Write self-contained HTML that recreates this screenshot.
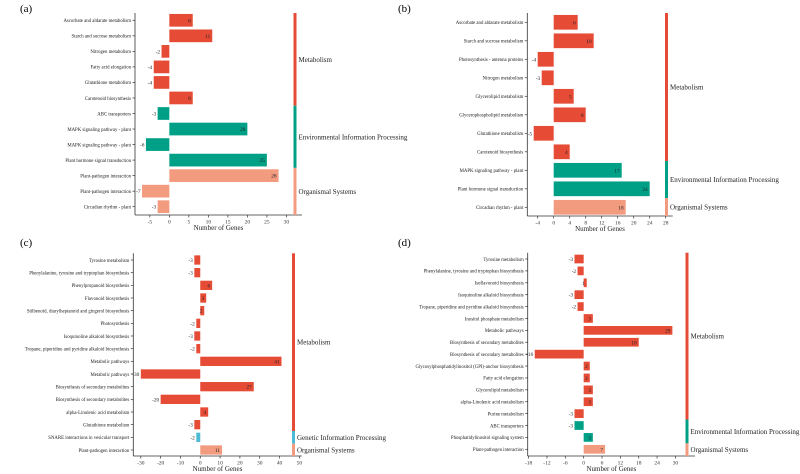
<!DOCTYPE html>
<html><head><meta charset="utf-8"><style>
html,body{margin:0;padding:0;background:#fff;width:800px;height:474px;overflow:hidden}
svg{display:block;font-family:"Liberation Serif",serif}
</style></head><body>
<svg id="chart" width="800" height="474" viewBox="0 0 800 474" xmlns="http://www.w3.org/2000/svg"></svg>
<script>
const catsA=["Ascorbate and aldarate metabolism","Starch and sucrose metabolism","Nitrogen metabolism","Fatty acid elongation","Glutathione metabolism","Carotenoid biosynthesis","ABC transporters","MAPK signaling pathway - plant","MAPK signaling pathway - plant","Plant hormone signal transduction","Plant-pathogen interaction","Plant-pathogen interaction","Circadian rhythm - plant"];
const valsA=[6,11,-2,-4,-4,6,-3,20,-6,25,28,-7,-3];
const grpA=[0,0,0,0,0,0,1,1,1,1,3,3,3];
const ticksA=[-5,0,5,10,15,20,25,30];
const catsB=["Ascorbate and aldarate metabolism","Starch and sucrose metabolism","Photosynthesis - antenna proteins","Nitrogen metabolism","Glycerolipid metabolism","Glycerophospholipid metabolism","Glutathione metabolism","Carotenoid biosynthesis","MAPK signaling pathway - plant","Plant hormone signal transduction","Circadian rhythm - plant"];
const valsB=[6,10,-4,-3,5,8,-5,4,17,24,18];
const grpB=[0,0,0,0,0,0,0,0,1,1,3];
const ticksB=[-4,0,4,8,12,16,20,24,28];
const catsC=["Tyrosine metabolism","Phenylalanine, tyrosine and tryptophan biosynthesis","Phenylpropanoid biosynthesis","Flavonoid biosynthesis","Stilbenoid, diarylheptanoid and gingerol biosynthesis","Photosynthesis","Isoquinoline alkaloid biosynthesis","Tropane, piperidine and pyridine alkaloid biosynthesis","Metabolic pathways","Metabolic pathways","Biosynthesis of secondary metabolites","Biosynthesis of secondary metabolites","alpha-Linolenic acid metabolism","Glutathione metabolism","SNARE interactions in vesicular transport","Plant-pathogen interaction"];
const valsC=[-3,-3,6,3,2,-2,-3,-2,41,-30,27,-20,4,-3,-2,11];
const grpC=[0,0,0,0,0,0,0,0,0,0,0,0,0,0,2,3];
const ticksC=[-30,-20,-10,0,10,20,30,40,50];
const catsD=["Tyrosine metabolism","Phenylalanine, tyrosine and tryptophan biosynthesis","Isoflavonoid biosynthesis","Isoquinoline alkaloid biosynthesis","Tropane, piperidine and pyridine alkaloid biosynthesis","Inositol phosphate metabolism","Metabolic pathways","Biosynthesis of secondary metabolites","Biosynthesis of secondary metabolites","Glycosylphosphatidylinositol (GPI)-anchor biosynthesis","Fatty acid elongation","Glycerolipid metabolism","alpha-Linolenic acid metabolism","Purine metabolism","ABC transporters","Phosphatidylinositol signaling system","Plant-pathogen interaction"];
const valsD=[-3,-2,1,-3,-2,3,29,18,-16,2,2,3,3,-3,-3,3,7];
const grpD=[0,0,0,0,0,0,0,0,0,0,0,0,0,0,1,1,3];
const ticksD=[-18,-12,-6,0,6,12,18,24,30];
const groupNames=["Metabolism","Environmental Information Processing","Genetic Information Processing","Organismal Systems"];
const colors=["#e64b35","#00a087","#4dbbd5","#f39b7f"];

const NS="http://www.w3.org/2000/svg";
const svg=document.getElementById('chart');
function mk(tag,attrs,parent,text){const e=document.createElementNS(NS,tag);for(const k in attrs)e.setAttribute(k,attrs[k]);if(text!==undefined)e.textContent=text;(parent||svg).appendChild(e);return e;}

function panel(p){
  const g=mk('g',{});
  
  
  const t=mk('text',{x:p.lx,y:p.ly,'font-size':11},g,'('+p.id+')');
  
  
  const xs=v=>p.x0+(v-p.xmin)*(p.x1-p.x0)/(p.xmax-p.xmin);
  const n=p.cats.length;
  const step=(p.yLast-p.yFirst)/(n-1);
  const yc=i=>p.yFirst+i*step;
  // axes
  const ya=mk('line',{x1:p.x0,x2:p.x0,y1:p.top,y2:p.bot,stroke:'#333','stroke-width':0.8},g);
  
  const xa=mk('line',{x1:p.x0,x2:p.x1,y1:p.bot,y2:p.bot,stroke:'#333','stroke-width':0.8},g);
  
  p.ticks.forEach(v=>{
    mk('line',{x1:xs(v),x2:xs(v),y1:p.bot,y2:p.bot+2.5,stroke:'#333','stroke-width':0.7},g);
    const tl=mk('text',{x:xs(v),y:p.bot+8.5,'font-size':5.5,'text-anchor':'middle',fill:'#333'},g,String(v));
    
  });
  const at=mk('text',{x:(p.x0+p.x1)/2,y:p.bot+15,'font-size':7,'text-anchor':'middle',fill:'#222'},g,'Number of Genes');
  
  for(let i=0;i<n;i++){
    const y=yc(i),v=p.vals[i];
    mk('line',{x1:p.x0-2.5,x2:p.x0,y1:y,y2:y,stroke:'#333','stroke-width':0.7},g);
    const cl=mk('text',{x:p.x0-4,y:y+1.8,'font-size':p.fs,'text-anchor':'end',fill:'#222'},g,p.cats[i]);
    
    const xa0=xs(0),xv=xs(v);
    const r=mk('rect',{x:Math.min(xa0,xv),y:y-p.bh/2,width:Math.abs(xv-xa0),height:p.bh,fill:colors[p.grp[i]]},g);
    
    const vl=v>=0?mk('text',{x:xv-2,y:y+2,'font-size':p.fs+0.5,'text-anchor':'end',fill:'#222'},g,String(v))
               :mk('text',{x:xv-1.5,y:y+2,'font-size':p.fs+0.5,'text-anchor':'end',fill:'#222'},g,String(v));
    
  }
  // group bars
  const groups=[];
  p.grp.forEach((gi,i)=>{if(!groups.length||groups[groups.length-1].g!==gi)groups.push({g:gi,s:i,e:i});else groups[groups.length-1].e=i;});
  groups.forEach((gr,k)=>{
    const y1=k===0?p.top:yc(gr.s)-step/2;
    const y2=k===groups.length-1?p.bot:yc(gr.e)+step/2;
    const gb=mk('rect',{x:p.gx,y:y1,width:3,height:y2-y1,fill:colors[gr.g]},g);
    
    const gl=mk('text',{x:p.gx+5,y:(y1+y2)/2+2.5,'font-size':7,fill:'#222'},g,groupNames[gr.g]);
    
  });
}
panel({id:'a',lx:20,ly:12,cats:catsA,vals:valsA,grp:grpA,ticks:ticksA,x0:135,x1:302,xmin:-8.8,xmax:34,top:13,bot:215,yFirst:20.3,yLast:206.7,bh:12.7,gx:293.5,fs:4.8});
panel({id:'b',lx:398,ly:12,cats:catsB,vals:valsB,grp:grpB,ticks:ticksB,x0:527.3,x1:672.7,xmin:-6.6,xmax:29.75,top:13,bot:216,yFirst:22.3,yLast:207.3,bh:14.7,gx:665,fs:4.8});
panel({id:'c',lx:20,ly:246,cats:catsC,vals:valsC,grp:grpC,ticks:ticksC,x0:133.3,x1:301.7,xmin:-33.8,xmax:51.2,top:253.3,bot:456,yFirst:260,yLast:450,bh:9.3,gx:292,fs:4.8});
panel({id:'d',lx:398,ly:246,cats:catsD,vals:valsD,grp:grpD,ticks:ticksD,x0:527.7,x1:695,xmin:-18.3,xmax:36.4,top:252.7,bot:456,yFirst:259,yLast:449.3,bh:8.7,gx:685.5,fs:4.8});
</script>
</body></html>
